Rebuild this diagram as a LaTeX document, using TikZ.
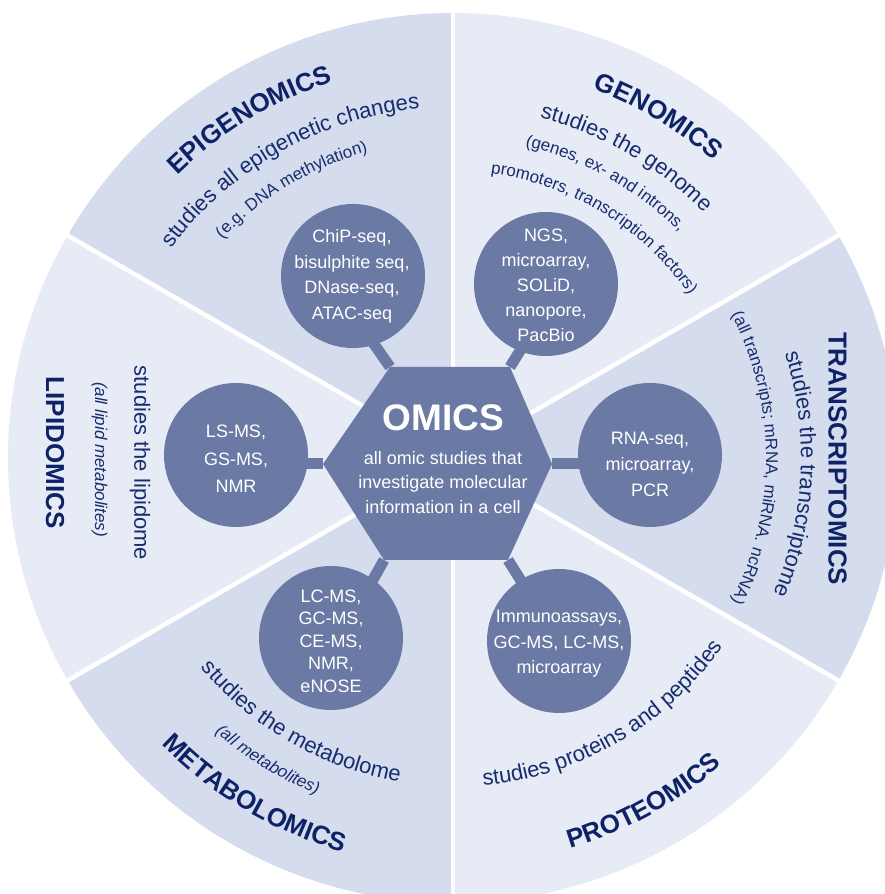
\documentclass[tikz,border=0pt]{standalone}
\usepackage{fontspec}
\setmainfont{Liberation Sans}
\usetikzlibrary{decorations.text}
\definecolor{secDark}{RGB}{212,220,238}
\definecolor{secLight}{RGB}{230,235,246}
\definecolor{omic}{RGB}{107,122,164}
\definecolor{navy}{RGB}{14,34,102}
\definecolor{subnavy}{RGB}{24,44,110}
\newcommand\omTitle{\fontsize{26}{26}\selectfont\bfseries\color{navy}}
\newcommand\omSub{\fontsize{22}{22}\selectfont\color{subnavy}}
\newcommand\omSmall{\fontsize{17}{17}\selectfont\color{subnavy}}
\newcommand\omSmallIt{\fontsize{17}{17}\selectfont\itshape\color{subnavy}}
\begin{document}
\begin{tikzpicture}[x=1pt,y=1pt,
  darksec/.style={fill=secDark},
  lightsec/.style={fill=secLight},
  sepline/.style={draw=white, line width=4.5pt},
  tech/.style={circle, fill=omic, minimum size=144pt, inner sep=0pt},
  techtext/.style={text=white, align=center, inner sep=0pt},
  bar/.style={draw=omic, line width=11pt},
  ttl/.style={text=navy, font=\fontsize{26}{26}\selectfont\bfseries, inner sep=0pt},
  subt/.style={text=subnavy, font=\fontsize{22}{22}\selectfont, inner sep=0pt},
  smit/.style={text=subnavy, font=\fontsize{17}{17}\selectfont\itshape, inner sep=0pt},
  arctext/.style={decorate, decoration={text along path, text align=center, text={#1}}}]
\useasboundingbox (0,0) rectangle (885,894);
\clip (0,0) rectangle (885,894);
\coordinate (C) at (453,436);
% sectors
\begin{scope}[shift={(C)}]
  \fill[lightsec] (0,0) -- (30:445) arc[start angle=30,end angle=90,radius=445] -- cycle;
  \fill[darksec] (0,0) -- (90:445) arc[start angle=90,end angle=150,radius=445] -- cycle;
  \fill[lightsec] (0,0) -- (150:445) arc[start angle=150,end angle=210,radius=445] -- cycle;
  \fill[darksec] (0,0) -- (210:445) arc[start angle=210,end angle=270,radius=445] -- cycle;
  \fill[lightsec] (0,0) -- (270:445) arc[start angle=270,end angle=330,radius=445] -- cycle;
  \fill[darksec] (0,0) -- (-30:445) arc[start angle=-30,end angle=30,radius=445] -- cycle;
  \foreach \a in {30,90,...,330} \draw[sepline] (0,0) -- (\a:452);
\end{scope}
% hexagon corners
\coordinate (hL) at (323,430);
\coordinate (hTL) at (390,527);
\coordinate (hTR) at (510,527);
\coordinate (hR) at (552,430);
\coordinate (hBR) at (508,334);
\coordinate (hBL) at (384,334);
% bar ends
\coordinate (chipEnd) at (367,560);
\coordinate (ngsEnd) at (531,561);
\coordinate (rnaEnd) at (600,430);
\coordinate (immEnd) at (530,299);
\coordinate (lcEnd) at (365,300);
\coordinate (lsEnd) at (290,430);
\draw[bar] (hTL) -- (chipEnd);
\draw[bar] (hTR) -- (ngsEnd);
\draw[bar] (hR) -- (rnaEnd);
\draw[bar] (hBR) -- (immEnd);
\draw[bar] (hBL) -- (lcEnd);
\draw[bar] (hL) -- (lsEnd);
\fill[omic] (hL) -- (hTL) -- (hTR) -- (hR) -- (hBR) -- (hBL) -- cycle;
% circles
\node[tech] (chip) at (353,618) {};
\node[tech] (ngs) at (546,610) {};
\node[tech] (rna) at (650,439) {};
\node[tech] (imm) at (559,253) {};
\node[tech] (lc) at (331,256) {};
\node[tech] (ls) at (236,439) {};
\node[techtext, font=\fontsize{18}{25.7}\selectfont] (chipT) at (352,617.5) {ChiP-seq,\\bisulphite seq,\\DNase-seq,\\ATAC-seq};
\node[techtext, font=\fontsize{18}{25}\selectfont] (ngsT) at (546,609) {NGS,\\microarray,\\SOLiD,\\nanopore,\\PacBio};
\node[techtext, font=\fontsize{18}{26}\selectfont] (rnaT) at (650,430) {RNA-seq,\\microarray,\\PCR};
\node[techtext, font=\fontsize{18}{25.5}\selectfont] (immT) at (559,250) {Immunoassays,\\GC-MS, LC-MS,\\microarray};
\node[techtext, font=\fontsize{18}{22.5}\selectfont] (lcT) at (331,253) {LC-MS,\\GC-MS,\\CE-MS,\\NMR,\\eNOSE};
\node[techtext, font=\fontsize{18}{27.5}\selectfont] (lsT) at (236,435) {LS-MS,\\GS-MS,\\NMR};
% centre
\node[text=white, font=\fontsize{37}{37}\selectfont\bfseries, inner sep=0pt] (omics) at (443.5,476) {OMICS};
\node[techtext, font=\fontsize{18}{24.5}\selectfont] (omicsT) at (443,411.5) {all omic studies that\\investigate molecular\\information in a cell};
% curved texts
\begin{scope}[shift={(C)}]
  % genomics
  \path[arctext={|\omTitle|GENOMICS}] (109:395) arc[start angle=109,end angle=9,radius=395];
  \path[arctext={|\omSub|studies the genome}] (110:351) arc[start angle=110,end angle=10,radius=351];
  \path[arctext={|\omSmall|(genes, ex- and introns,}] (111:320) arc[start angle=111,end angle=11,radius=320];
  \path[arctext={|\omSmall|promoters, transcription factors)}] (108.5:287) arc[start angle=108.5,end angle=8.5,radius=287];
  % epigenomics
  \path[arctext={|\omTitle|EPIGENOMICS}] (171:395) arc[start angle=171,end angle=71,radius=395];
  \path[arctext={|\omSub|studies all epigenetic changes}] (169.4:351) arc[start angle=169.4,end angle=69.4,radius=351];
  \path[arctext={|\omSmall|(e.g. DNA methylation)}] (171:318) arc[start angle=171,end angle=71,radius=318];
  % transcriptomics
  \path[arctext={|\omSub|studies the transcriptome}] (47.25:348) arc[start angle=47.25,end angle=-52.75,radius=348];
  \path[arctext={|\omSmall|(all transcripts; mRNA, miRNA. ncRNA)}] (50:313) arc[start angle=50,end angle=-50,radius=313];
  % proteomics
  \path[arctext={|\omTitle|PROTEOMICS}] (249:408) arc[start angle=249,end angle=349,radius=408];
  \path[arctext={|\omSub|studies proteins and peptides}] (250.2:329) arc[start angle=250.2,end angle=350.2,radius=329];
  % metabolomics
  \path[arctext={|\omTitle|METABOLOMICS}] (189.5:409) arc[start angle=189.5,end angle=289.5,radius=409];
  \path[arctext={|\omSmallIt|(all metabolites)}] (188.5:363) arc[start angle=188.5,end angle=288.5,radius=363];
  \path[arctext={|\omSub|studies the metabolome}] (190.2:328) arc[start angle=190.2,end angle=290.2,radius=328];
\end{scope}
% straight texts
\node[ttl, rotate=-90] (traTitle) at (837.5,435) {TRANSCRIPTOMICS};
\node[ttl, rotate=-90] (lipTitle) at (55,441.5) {LIPIDOMICS};
\node[smit, rotate=-90] (lipParen) at (99.5,434.5) {(all lipid metabolites)};
\node[subt, rotate=-90] (lipSub) at (140,431) {studies the lipidome};
\end{tikzpicture}
\end{document}
